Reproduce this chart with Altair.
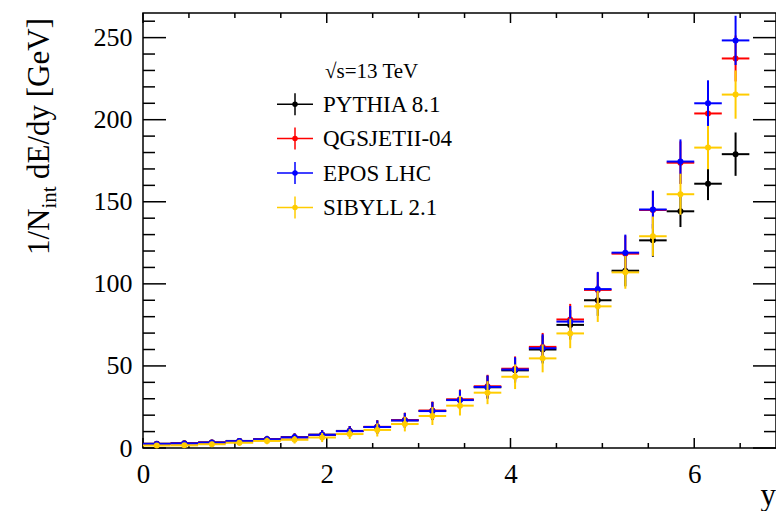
import altair as alt
import pandas as pd

# ---------------- data ----------------
x_centers = [0.15, 0.45, 0.75, 1.05, 1.35, 1.65, 1.95, 2.25, 2.55, 2.85, 3.15,
             3.45, 3.75, 4.05, 4.35, 4.65, 4.95, 5.25, 5.55, 5.85, 6.15, 6.45]
half_bin = 0.15

models = ["PYTHIA 8.1", "QGSJETII-04", "EPOS LHC", "SIBYLL 2.1"]
colors = ["#000000", "#ff0000", "#0000ff", "#ffcc00"]

pythia = [2.6, 2.9, 3.4, 4.3, 5.4, 6.6, 8.1, 10.4, 12.8, 16.9, 22.6,
          29.4, 37.0, 47.3, 60.0, 75.0, 90.0, 108.0, 126.5, 144.2, 161.0, 179.0]
qgsjet = [2.5, 2.8, 3.3, 4.2, 5.3, 6.5, 8.0, 10.3, 12.9, 17.0, 22.8,
          29.6, 37.6, 48.3, 61.6, 78.3, 96.3, 118.4, 145.0, 173.8, 203.8, 237.3]
epos = [2.5, 2.8, 3.3, 4.2, 5.3, 6.5, 8.0, 10.3, 12.8, 16.8, 22.5,
        29.2, 37.2, 47.8, 60.8, 77.0, 96.8, 119.0, 145.3, 174.5, 210.0, 248.3]
sibyll = [1.5, 1.6, 2.3, 3.2, 4.3, 5.0, 6.4, 8.5, 11.0, 14.6, 19.5,
          25.8, 33.7, 43.4, 54.6, 69.8, 86.3, 107.0, 129.0, 154.6, 183.0, 215.3]

pythia_err = [1.0, 1.2, 1.5, 1.8, 2.0, 2.3, 2.8, 3.0, 4.0, 4.5, 5.5,
              6.0, 7.0, 7.5, 8.5, 9.0, 9.5, 9.5, 10.0, 9.6, 10.0, 13.2]
qgsjet_err = [1.0, 1.2, 1.5, 1.8, 2.0, 2.3, 2.8, 3.0, 4.0, 4.5, 5.5,
              6.0, 7.0, 7.5, 8.5, 9.5, 10.5, 11.0, 11.5, 13.0, 13.5, 14.0]
epos_err = [1.0, 1.2, 1.5, 1.8, 2.0, 2.3, 2.8, 3.0, 4.0, 4.5, 5.5,
            6.0, 7.0, 7.5, 8.5, 9.5, 10.5, 11.0, 11.5, 13.5, 14.0, 15.0]
sibyll_err = [1.0, 1.2, 1.5, 1.8, 2.0, 2.3, 2.8, 3.0, 4.0, 4.5, 5.5,
              6.0, 7.0, 7.5, 8.5, 9.0, 9.5, 10.0, 12.0, 12.5, 13.2, 14.7]

series_vals = [pythia, qgsjet, epos, sibyll]
series_errs = [pythia_err, qgsjet_err, epos_err, sibyll_err]
draw_order = [0, 1, 2, 3]  # black, red, blue, yellow (yellow on top)

x_major = [0, 2, 4, 6]
x_minor = [0.5, 1, 1.5, 2.5, 3, 3.5, 4.5, 5, 5.5, 6.5]
y_major = [0, 50, 100, 150, 200, 250]
y_minor = [10, 20, 30, 40, 60, 70, 80, 90, 110, 120, 130, 140, 160, 170, 180,
           190, 210, 220, 230, 240, 260]

# ---------------- layout ----------------
W, H = 633, 435
X_MAX, Y_MAX = 6.89, 265
FONT = "Liberation Serif"

xs = alt.Scale(domain=[0, X_MAX], nice=False, zero=False)
ys = alt.Scale(domain=[0, Y_MAX], nice=False, zero=False)

AX = alt.Axis(values=x_major, format="d", ticks=False, tickSize=0, domain=False,
              grid=False, title=None, labelFont=FONT, labelFontSize=27,
              labelColor="black", labelPadding=13, labelFlush=False)
AY = alt.Axis(values=y_major, format="d", ticks=False, tickSize=0, domain=False,
              grid=False, title=None, labelFont=FONT, labelFontSize=26,
              labelColor="black", labelPadding=11, labelFlush=False)


def X(f):
    return alt.X(f, type="quantitative", scale=xs, axis=AX)


def Y(f):
    return alt.Y(f, type="quantitative", scale=ys, axis=AY)


layers = []


# inward ticks on all four sides
def xticks(vals, length):
    df = pd.DataFrame({"t": vals})
    bot = alt.Chart(df).mark_rule(color="black", strokeWidth=1.5).encode(
        x=X("t"), y=alt.value(H), y2=alt.value(H - length))
    top = alt.Chart(df).mark_rule(color="black", strokeWidth=1.5).encode(
        x=X("t"), y=alt.value(0), y2=alt.value(length))
    return [bot, top]


def yticks(vals, length):
    df = pd.DataFrame({"t": vals})
    left = alt.Chart(df).mark_rule(color="black", strokeWidth=1.5).encode(
        y=Y("t"), x=alt.value(0), x2=alt.value(length))
    right = alt.Chart(df).mark_rule(color="black", strokeWidth=1.5).encode(
        y=Y("t"), x=alt.value(W), x2=alt.value(W - length))
    return [left, right]


layers += xticks(x_major, 10) + xticks(x_minor, 5)
layers += yticks(y_major, 23) + yticks(y_minor, 12)

# data series
for i in draw_order:
    df = pd.DataFrame({"x": x_centers, "v": series_vals[i], "e": series_errs[i]})
    base = alt.Chart(df).transform_calculate(
        lo="datum.v - datum.e", hi="datum.v + datum.e",
        xl=f"datum.x - {half_bin}", xh=f"datum.x + {half_bin}")
    c = colors[i]
    layers.append(base.mark_rule(color=c, strokeWidth=2).encode(
        x=X("x"), y=Y("lo"), y2="hi:Q"))
    layers.append(base.mark_rule(color=c, strokeWidth=2).encode(
        x=X("xl"), x2="xh:Q", y=Y("v")))
    layers.append(base.mark_circle(color=c, size=36, opacity=1).encode(
        x=X("x"), y=Y("v")))

# legend
leg_x1, leg_x2, leg_xc, leg_tx = 134, 170, 152, 180
row_y = [91.2, 125.6, 160.0, 194.4]
one = pd.DataFrame({"a": [0]})
layers.append(alt.Chart(one).mark_text(
    text="√s=13 TeV", font=FONT, fontSize=21, align="left",
    baseline="alphabetic", color="black").encode(
    x=alt.value(182), y=alt.value(65.3)))
for i, name in enumerate(models):
    c = colors[i]
    yy = row_y[i]
    layers.append(alt.Chart(one).mark_rule(color=c, strokeWidth=1.5).encode(
        x=alt.value(leg_x1), x2=alt.value(leg_x2), y=alt.value(yy)))
    layers.append(alt.Chart(one).mark_rule(color=c, strokeWidth=1.5).encode(
        x=alt.value(leg_xc), y=alt.value(yy - 11), y2=alt.value(yy + 11)))
    layers.append(alt.Chart(one).mark_circle(color=c, size=30, opacity=1).encode(
        x=alt.value(leg_xc), y=alt.value(yy)))
    layers.append(alt.Chart(one).mark_text(
        text=name, font=FONT, fontSize=23, align="left",
        baseline="alphabetic", color="black").encode(
        x=alt.value(leg_tx), y=alt.value(yy + 7.5)))

# axis titles (y title built from pieces to get a subscript)
title_x = -94
layers.append(alt.Chart(one).mark_text(
    text="1/N", font=FONT, fontSize=31, align="left", baseline="alphabetic",
    angle=270, color="black").encode(x=alt.value(title_x), y=alt.value(242)))
layers.append(alt.Chart(one).mark_text(
    text="int", font=FONT, fontSize=21, align="left", baseline="alphabetic",
    angle=270, color="black").encode(x=alt.value(title_x + 7), y=alt.value(195.5)))
layers.append(alt.Chart(one).mark_text(
    text="dE/dy [GeV]", font=FONT, fontSize=31, align="left",
    baseline="alphabetic", angle=270, color="black").encode(
    x=alt.value(title_x), y=alt.value(166)))
layers.append(alt.Chart(one).mark_text(
    text="y", font=FONT, fontSize=31, align="right", baseline="alphabetic",
    color="black").encode(x=alt.value(W), y=alt.value(492)))

chart = alt.layer(*layers).properties(
    width=W, height=H,
    autosize=alt.AutoSizeParams(type="none"),
    padding={"left": 143, "top": 13, "right": 0, "bottom": 63},
    background="white",
).configure_view(stroke="black", strokeWidth=1.5)

chart.save("out.html", embed_options={"renderer": "svg", "actions": False})
